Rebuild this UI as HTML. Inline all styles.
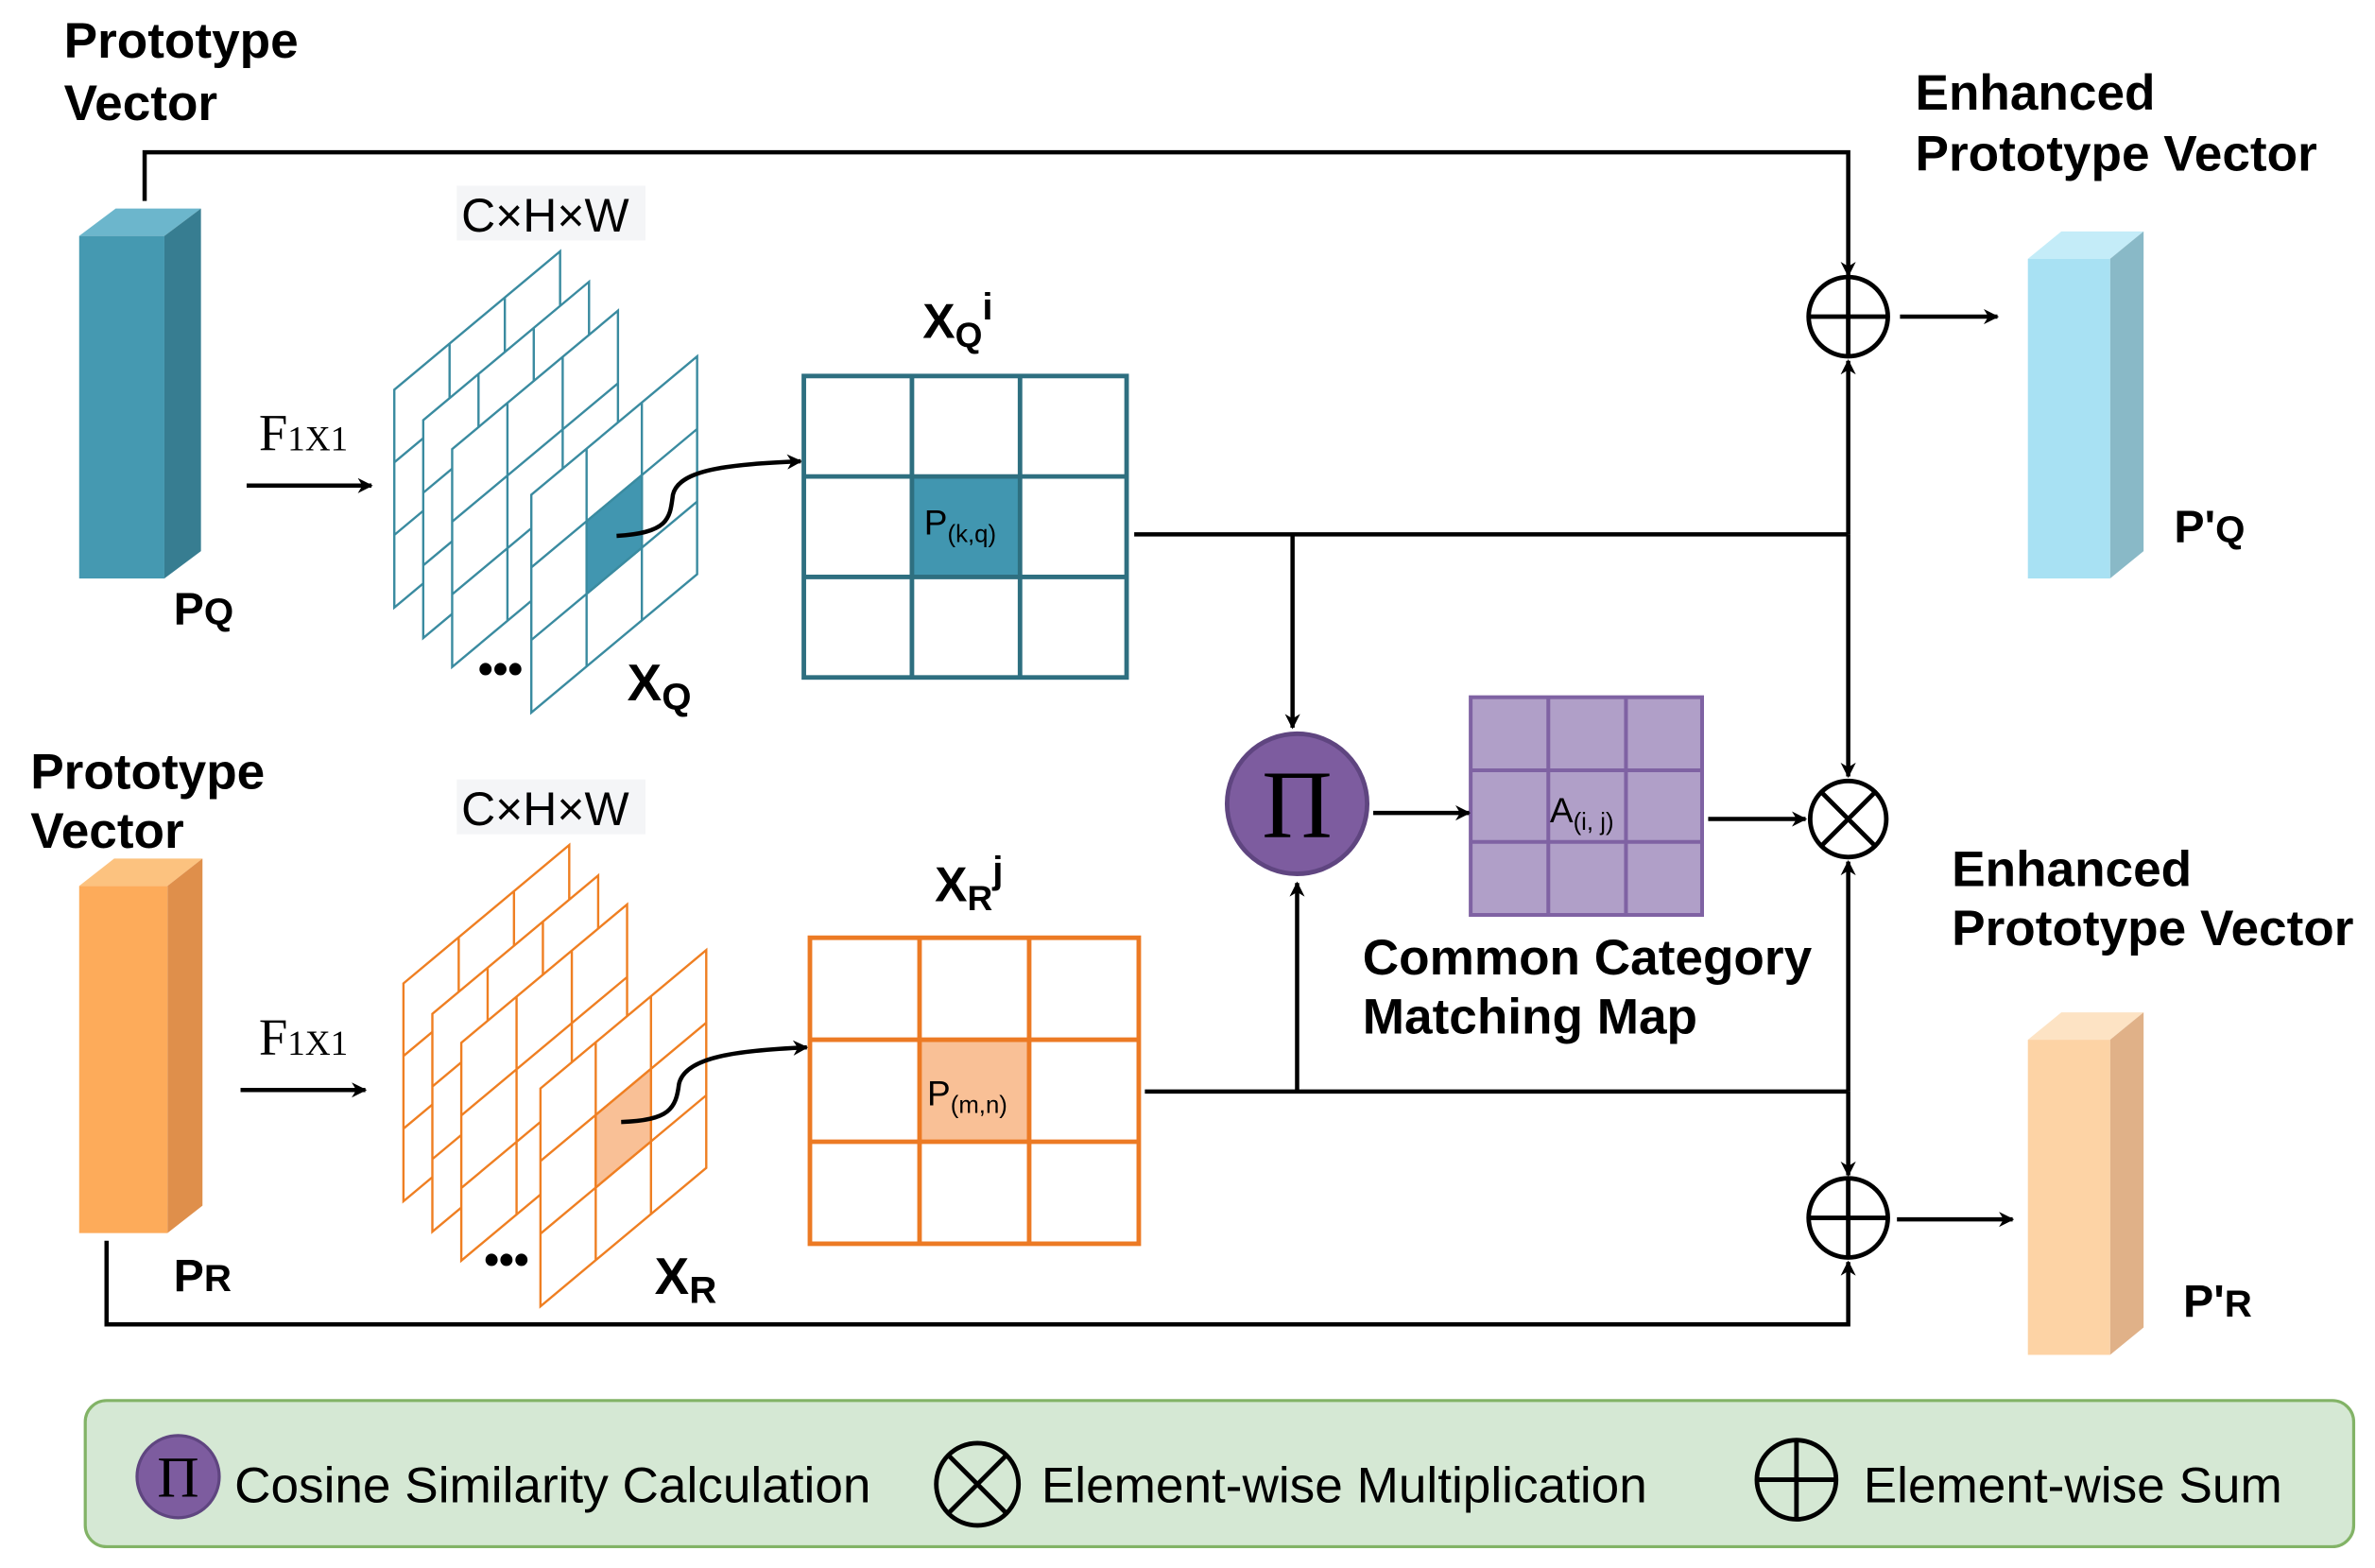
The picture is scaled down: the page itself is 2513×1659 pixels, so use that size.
<!DOCTYPE html>
<html><head><meta charset="utf-8"><style>
html,body{margin:0;padding:0;background:#fff}
svg{display:block}
text{font-family:"Liberation Sans",Arial,sans-serif}
.b{font-weight:bold}
.s{font-family:"Liberation Serif","DejaVu Serif",serif}
</style></head><body>
<svg width="2513" height="1659" viewBox="0 0 1560 1030" preserveAspectRatio="none" xmlns="http://www.w3.org/2000/svg">
<defs>
<marker id="ar" markerWidth="10" markerHeight="10" refX="9" refY="5" orient="auto" markerUnits="userSpaceOnUse"><path d="M0,0 L10,5 L0,10 L3,5 z" fill="#000"/></marker>
<g id="pl"><path d="M0,0H3V3H0z M1,0V3 M2,0V3 M0,1H3 M0,2H3" fill="#fff" vector-effect="non-scaling-stroke"/></g>
</defs>
<rect width="1560" height="1030" fill="#fff"/>

<polygon points="52,155 108,155 132,137 76,137" fill="#6cb6cc"/>
<polygon points="108,155 132,137 132,362 108,380" fill="#377d91"/>
<rect x="52" y="155" width="56" height="225" fill="#4599b1"/>
<polygon points="52,582 110,582 133,564 75,564" fill="#fcc27f"/>
<polygon points="110,582 133,564 133,792 110,810" fill="#df8f4b"/>
<rect x="52" y="582" width="58" height="228" fill="#fdab5a"/>
<polygon points="1332,170 1386,170 1408,152 1354,152" fill="#c4ecf8"/>
<polygon points="1386,170 1408,152 1408,362 1386,380" fill="#89b9c7"/>
<rect x="1332" y="170" width="54" height="210" fill="#a8e1f3"/>
<polygon points="1332,683 1386,683 1408,665 1354,665" fill="#fde3c4"/>
<polygon points="1386,683 1408,665 1408,872 1386,890" fill="#e0b188"/>
<rect x="1332" y="683" width="54" height="207" fill="#fdd3a5"/>

<g stroke="#3a8ba0" stroke-width="2.4">
<use href="#pl" transform="matrix(36.3,-30.3,0,47.7,259,256)"/>
<use href="#pl" transform="matrix(36.3,-30.3,0,47.7,278,276)"/>
<use href="#pl" transform="matrix(36.3,-30.3,0,47.7,297,295)"/>
<use href="#pl" transform="matrix(36.3,-30.3,0,47.7,349,325)"/>
<path d="M1,1H2V2H1z" fill="#4196b0" transform="matrix(36.3,-30.3,0,47.7,349,325)" vector-effect="non-scaling-stroke"/>
</g>
<g stroke="#ef7f22" stroke-width="2.4">
<use href="#pl" transform="matrix(36.3,-30.3,0,47.7,265,646)"/>
<use href="#pl" transform="matrix(36.3,-30.3,0,47.7,284,666)"/>
<use href="#pl" transform="matrix(36.3,-30.3,0,47.7,303,685)"/>
<use href="#pl" transform="matrix(36.3,-30.3,0,47.7,355,715)"/>
<path d="M1,1H2V2H1z" fill="#f9c096" transform="matrix(36.3,-30.3,0,47.7,355,715)" vector-effect="non-scaling-stroke"/>
</g>
<text x="314" y="449" font-size="28" class="b">•••</text>
<text x="318" y="837" font-size="28" class="b">•••</text>

<path d="M405,352 C440,350 440,340 442,325 C446,308 480,305 526,303" fill="none" stroke="#000" stroke-width="2.8" marker-end="url(#ar)"/>
<path d="M408,737 C440,736 444,728 446,712 C450,694 485,690 530,688" fill="none" stroke="#000" stroke-width="2.8" marker-end="url(#ar)"/>

<rect x="600" y="313" width="70" height="66" fill="#4196b0"/>
<g stroke="#2e6f80" stroke-width="3" fill="none">
<rect x="528" y="247" width="212" height="198"/>
<path d="M599,247V445 M670,247V445 M528,313H740 M528,379H740"/>
</g>
<rect x="604" y="683" width="72" height="67" fill="#f9c096"/>
<g stroke="#ec7a24" stroke-width="3" fill="none">
<rect x="532" y="616" width="216" height="201"/>
<path d="M604,616V817 M676,616V817 M532,683H748 M532,750H748"/>
</g>
<rect x="966" y="458" width="152" height="143" fill="#b09fc8" stroke="#7f62a3" stroke-width="2.5"/>
<path d="M1017,458V601 M1068,458V601 M966,506H1118 M966,553H1118" stroke="#7f62a3" stroke-width="2.5"/>

<g stroke="#000" stroke-width="2.8" fill="none">
<path d="M95,132V100H1214V181" marker-end="url(#ar)"/>
<path d="M745,351H1214"/>
<path d="M1214,351V237" marker-end="url(#ar)"/>
<path d="M1214,351V510" marker-end="url(#ar)"/>
<path d="M849,351V478" marker-end="url(#ar)"/>
<path d="M902,534H965" marker-end="url(#ar)"/>
<path d="M1122,538H1186" marker-end="url(#ar)"/>
<path d="M752,717H1214"/>
<path d="M852,717V580" marker-end="url(#ar)"/>
<path d="M1214,717V566" marker-end="url(#ar)"/>
<path d="M1214,717V772" marker-end="url(#ar)"/>
<path d="M70,815V870H1214V829" marker-end="url(#ar)"/>
<path d="M1248,208H1312" marker-end="url(#ar)"/>
<path d="M1246,801H1322" marker-end="url(#ar)"/>
<path d="M162,319H244" marker-end="url(#ar)"/>
<path d="M158,716H240" marker-end="url(#ar)"/>
</g>
<g stroke="#000" stroke-width="3" fill="#fff">
<circle cx="1214" cy="208" r="26"/><path d="M1188,208H1240 M1214,182V234"/>
<circle cx="1214" cy="800" r="26"/><path d="M1188,800H1240 M1214,774V826"/>
<circle cx="1214" cy="538" r="25"/><path d="M1196,520L1232,556 M1232,520L1196,556"/>
</g>
<circle cx="852" cy="528" r="46" fill="#7d5c9f" stroke="#5f4580" stroke-width="3"/>
<text x="852" y="550" font-size="64" text-anchor="middle" class="s">Π</text>

<g class="b" font-size="33">
<text x="42" y="38" class="b">Prototype</text>
<text x="42" y="79" class="b">Vector</text>
<text x="20" y="518" class="b">Prototype</text>
<text x="20" y="557" class="b">Vector</text>
<text x="1258" y="72" class="b">Enhanced</text>
<text x="1258" y="112" class="b">Prototype Vector</text>
<text x="1282" y="582" class="b">Enhanced</text>
<text x="1282" y="621" class="b">Prototype Vector</text>
<text x="895" y="640" class="b">Common Category</text>
<text x="895" y="679" class="b">Matching Map</text>
</g>
<text x="114" y="410" font-size="30" class="b">P<tspan font-size="25">Q</tspan></text>
<text x="114" y="848" font-size="30" class="b">P<tspan font-size="25">R</tspan></text>
<text x="1428" y="356" font-size="30" class="b">P'<tspan font-size="25">Q</tspan></text>
<text x="1434" y="865" font-size="30" class="b">P'<tspan font-size="25">R</tspan></text>
<text x="412" y="460" font-size="34" class="b">X<tspan font-size="25" dy="6">Q</tspan></text>
<text x="430" y="850" font-size="34" class="b">X<tspan font-size="25" dy="6">R</tspan></text>
<text x="606" y="222" font-size="32" class="b">X<tspan font-size="23" dy="6">Q</tspan><tspan font-size="25" dy="-18">i</tspan></text>
<text x="614" y="592" font-size="32" class="b">X<tspan font-size="23" dy="6">R</tspan><tspan font-size="25" dy="-18">j</tspan></text>
<rect x="300" y="122" width="124" height="36" fill="#f4f5f7"/>
<text x="303" y="152" font-size="31">C×H×W</text>
<rect x="300" y="512" width="124" height="36" fill="#f4f5f7"/>
<text x="303" y="542" font-size="31">C×H×W</text>
<text x="170" y="296" font-size="34" class="s">F<tspan font-size="23">1X1</tspan></text>
<text x="170" y="693" font-size="34" class="s">F<tspan font-size="23">1X1</tspan></text>
<text x="607" y="351" font-size="23">P<tspan font-size="16" dy="5">(k,q)</tspan></text>
<text x="609" y="726" font-size="23">P<tspan font-size="16" dy="5">(m,n)</tspan></text>
<text x="1018" y="540" font-size="23">A<tspan font-size="16" dy="5">(i, j)</tspan></text>

<rect x="56" y="920" width="1490" height="96" rx="14" fill="#d5e8d4" stroke="#82b366" stroke-width="2"/>
<circle cx="117" cy="970" r="27" fill="#7d5c9f" stroke="#5f4580" stroke-width="2"/>
<text x="117" y="983" font-size="38" text-anchor="middle" class="s">Π</text>
<text x="154" y="987" font-size="33">Cosine Similarity Calculation</text>
<g stroke="#000" stroke-width="3" fill="none">
<circle cx="642" cy="975" r="27"/><path d="M623,956L661,994 M661,956L623,994"/>
<circle cx="1180" cy="972" r="26"/><path d="M1154,972H1206 M1180,946V998"/>
</g>
<text x="684" y="987" font-size="33">Element-wise Multiplication</text>
<text x="1224" y="987" font-size="33">Element-wise Sum</text>
</svg>
</body></html>
